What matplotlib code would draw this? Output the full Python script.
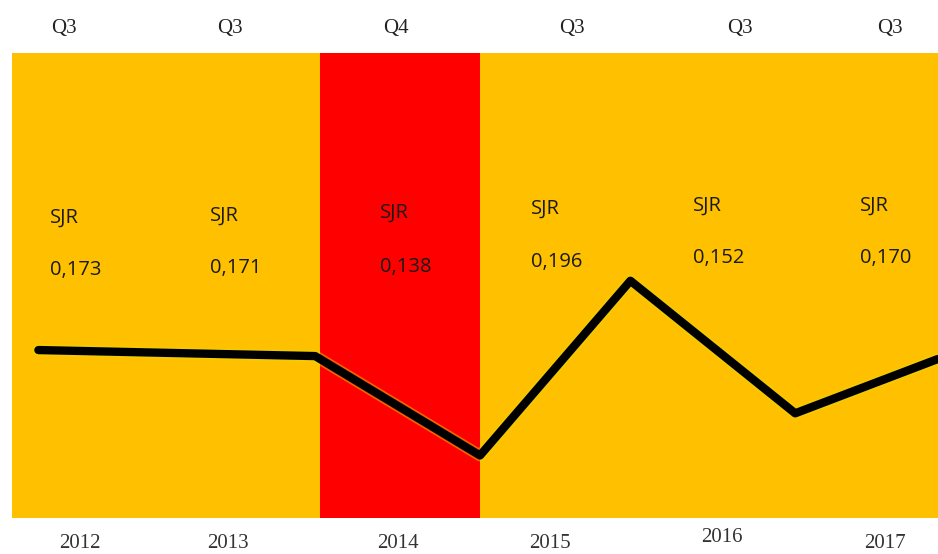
import matplotlib
matplotlib.use("Agg")
import matplotlib.pyplot as plt
import matplotlib.patheffects as pe

# data
years = ["2012", "2013", "2014", "2015", "2016", "2017"]
quartiles = ["Q3", "Q3", "Q4", "Q3", "Q3", "Q3"]
sjr = [0.173, 0.171, 0.138, 0.196, 0.152, 0.170]
sjr_text = ["0,173", "0,171", "0,138", "0,196", "0,152", "0,170"]

# layout (column units, one column per year)
line_x = [-0.26, 1.47, 2.5, 3.44, 4.47, 5.36]
year_x = [0.0, 0.925, 1.99, 2.94, 4.01, 5.03]
year_y = [543, 543, 543, 543, 538, 543]          # px from top
q_x = [-0.1, 0.94, 1.975, 3.075, 4.125, 5.06]
label_x = [-0.19, 0.81, 1.875, 2.82, 3.83, 4.875]
sjr_y = [218, 216, 213, 209, 206, 206]            # px from top
val_y = [270, 268, 267, 262, 258, 258]

H = 554.0
def fy(px):
    return 1 - px / H

band_colors = {"Q3": "#FFC000", "Q4": "#FF0000"}

fig = plt.figure(figsize=(9.38, 5.54), dpi=100)
ax = fig.add_axes([0, 0, 1, 1])
ax.set_xlim(-0.5, 5.3625)
ax.set_ylim(0.1053, 0.2892)
ax.axis("off")

# coloured background per year, quartile decides the colour
for i, q in enumerate(quartiles):
    left = i - 0.5 if i > 0 else -0.425
    right = i + 0.5 if i < len(years) - 1 else 5.4
    ax.axvspan(left, right, ymin=fy(518), ymax=fy(53),
               color=band_colors[q], lw=0, zorder=0)

ax.plot(line_x, sjr, color="black", lw=6, solid_capstyle="round",
        solid_joinstyle="round", zorder=3,
        path_effects=[pe.Stroke(linewidth=8.5, foreground="#E8D800", alpha=0.45),
                      pe.Normal()])

tr = ax.get_xaxis_transform()
for i in range(len(years)):
    ax.text(q_x[i], fy(28), quartiles[i], transform=tr, ha="center", va="center",
            family="Liberation Serif", fontsize=15, color="#222222")
    ax.text(year_x[i], fy(year_y[i]), years[i], transform=tr, ha="center",
            va="center", family="Liberation Serif", fontsize=15, color="#333333")
    ax.text(label_x[i], fy(sjr_y[i]), "SJR", transform=tr, ha="left", va="center",
            family="Open Sans", fontsize=14.5, color="#1a1a1a")
    ax.text(label_x[i], fy(val_y[i]), sjr_text[i], transform=tr, ha="left",
            va="center", family="Open Sans", fontsize=14.5, color="#1a1a1a")

fig.savefig("out.png", dpi=100)
